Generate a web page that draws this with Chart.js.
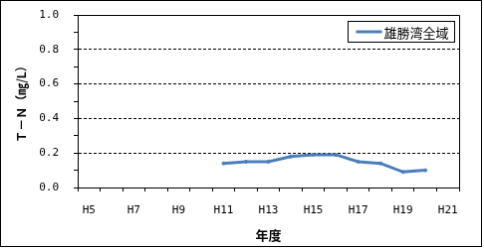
<!DOCTYPE html>
<html lang="ja">
<head>
<meta charset="utf-8">
<title>T-N 雄勝湾全域</title>
<script src="https://cdn.jsdelivr.net/npm/chart.js@4.4.1/dist/chart.umd.min.js"></script>
<style>
  html, body { margin: 0; padding: 0; background: #fff; }
  #grafico { display: block; border: 1px solid #000; }
</style>
</head>
<body>
<canvas id="grafico" width="482" height="247"></canvas>
<script>
/* ============================================================
   T-N（雄勝湾全域）— línea anual H5..H21, valores leídos
   del gráfico original
   ============================================================ */

/* Datos */
var ANIOS = ['H5', 'H6', 'H7', 'H8', 'H9', 'H10', 'H11', 'H12', 'H13',
             'H14', 'H15', 'H16', 'H17', 'H18', 'H19', 'H20', 'H21'];
var TN_OSHIKA = [null, null, null, null, null, null,
                 0.14, 0.15, 0.15, 0.18, 0.19, 0.19, 0.15, 0.14, 0.09, 0.10, null];
var NOMBRE_SERIE = '雄勝湾全域';
var Y_MIN = 0, Y_MAX = 1.0, Y_PASO = 0.1;
var Y_LINEAS = [0.2, 0.4, 0.6, 0.8];   /* líneas punteadas */

var AZUL = '#4A7EBB';
var NEGRO = '#000000';
var FUENTE_MONO = '"DejaVu Sans Mono", monospace';
var FUENTE_JP = '"Noto Sans CJK JP", sans-serif';

function esLinea(v) {
  for (var i = 0; i < Y_LINEAS.length; i++) {
    if (Math.abs(Y_LINEAS[i] - v) < 1e-6) { return true; }
  }
  return false;
}

/* Marco superior y derecho del área de trazado */
var marcoArea = {
  id: 'marcoArea',
  afterDraw: function (chart) {
    var ctx = chart.ctx, a = chart.chartArea;
    var arriba = Math.round(a.top) + 0.5;
    var derecha = Math.round(a.right) + 0.5;
    ctx.save();
    ctx.strokeStyle = NEGRO;
    ctx.lineWidth = 1;
    ctx.beginPath();
    ctx.moveTo(Math.round(a.left), arriba);
    ctx.lineTo(derecha, arriba);
    ctx.lineTo(derecha, Math.round(a.bottom));
    ctx.stroke();
    ctx.restore();
  }
};

/* Leyenda dentro del área, arriba a la derecha, con recuadro */
var leyendaRecuadro = {
  id: 'leyendaRecuadro',
  afterDraw: function (chart) {
    var ctx = chart.ctx, a = chart.chartArea;
    var ds = chart.data.datasets[0];
    var ancho = 107, alto = 21;
    var x = Math.round(a.right) - 5 - ancho + 0.5;
    var y = Math.round(a.top) + 6 + 0.5;
    var medio = y + alto / 2;
    ctx.save();
    ctx.fillStyle = '#fff';
    ctx.fillRect(x, y, ancho, alto);
    ctx.strokeStyle = NEGRO;
    ctx.lineWidth = 1;
    ctx.strokeRect(x, y, ancho, alto);
    ctx.strokeStyle = ds.borderColor;
    ctx.lineWidth = 3;
    ctx.beginPath();
    ctx.moveTo(x + 8, medio);
    ctx.lineTo(x + 34, medio);
    ctx.stroke();
    ctx.fillStyle = NEGRO;
    ctx.font = '13px ' + FUENTE_JP;
    ctx.textBaseline = 'middle';
    ctx.fillText(ds.label, x + 36, medio + 1);
    ctx.restore();
  }
};

new Chart(document.getElementById('grafico'), {
  type: 'line',
  data: {
    labels: ANIOS,
    datasets: [{
      label: NOMBRE_SERIE,
      data: TN_OSHIKA,
      borderColor: AZUL,
      backgroundColor: AZUL,
      borderWidth: 3,
      tension: 0,
      fill: false,
      pointRadius: 1.5,
      pointBorderWidth: 1,
      pointBackgroundColor: AZUL,
      pointBorderColor: AZUL,
      spanGaps: false
    }]
  },
  options: {
    responsive: false,
    animation: false,
    layout: { padding: { top: 14, right: 22, left: 0, bottom: 0 } },
    plugins: {
      legend: { display: false },
      tooltip: { enabled: false }
    },
    scales: {
      x: {
        type: 'category',
        offset: true,
        afterFit: function (s) { s.height = 59; },
        grid: {
          offset: true,
          drawOnChartArea: false,
          drawTicks: true,
          tickLength: 4,
          tickColor: NEGRO,
          color: NEGRO
        },
        border: { display: true, color: NEGRO, width: 1 },
        ticks: {
          autoSkip: false,
          maxRotation: 0,
          padding: 13,
          color: NEGRO,
          font: { family: FUENTE_MONO, size: 11 },
          callback: function (v, i) { return i % 2 === 0 ? ANIOS[i] : ''; }
        },
        title: {
          display: true,
          text: '年度',
          color: NEGRO,
          font: { family: FUENTE_JP, size: 13, weight: 'bold' },
          padding: { top: 0, bottom: 3 }
        }
      },
      y: {
        min: Y_MIN,
        max: Y_MAX,
        /* ancho fijo y sin el relleno extra que agregan las etiquetas */
        afterFit: function (s) { s.width = 77; s.paddingTop = 0; s.paddingBottom = 0; },
        grid: {
          drawTicks: true,
          tickLength: 4,
          tickColor: NEGRO,
          color: function (c) { return esLinea(c.tick.value) ? NEGRO : 'rgba(0,0,0,0)'; }
        },
        border: { display: true, color: NEGRO, width: 1, dash: [3, 2] },
        ticks: {
          stepSize: Y_PASO,
          autoSkip: false,
          padding: 15,
          color: NEGRO,
          font: { family: FUENTE_MONO, size: 11 },
          callback: function (v) {
            return Math.round(v * 10) % 2 === 0 ? v.toFixed(1) : '';
          }
        },
        title: {
          display: true,
          text: 'Ｔ－Ｎ（㎎/L）',
          color: NEGRO,
          font: { family: FUENTE_JP, size: 12, weight: 'bold' },
          padding: { top: 13, bottom: 0 }
        }
      }
    }
  },
  plugins: [marcoArea, leyendaRecuadro]
});
</script>
</body>
</html>
